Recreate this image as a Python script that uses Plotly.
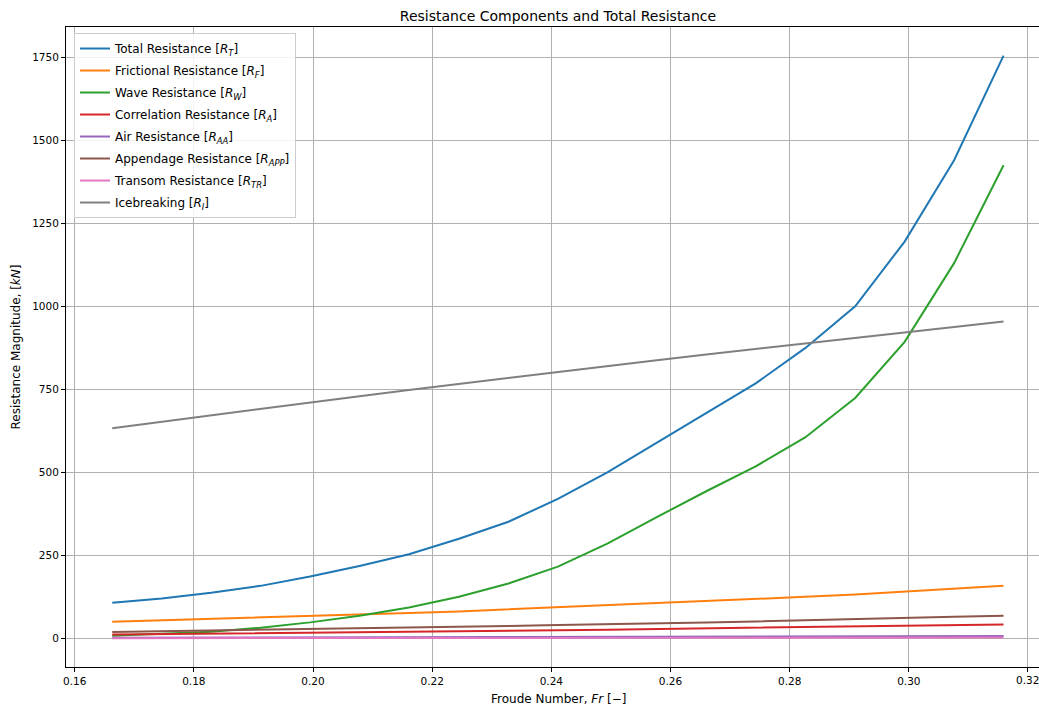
import plotly.graph_objects as go

# Froude numbers (speeds 10 ... 19 kn)
froude = [0.1663, 0.1746, 0.1829, 0.1912, 0.1995, 0.2078, 0.2161, 0.2245, 0.2328,
          0.2411, 0.2494, 0.2577, 0.2660, 0.2743, 0.2826, 0.2910, 0.2993, 0.3076, 0.3159]

r_total = [107, 120, 137, 158, 186, 218, 253, 300, 351, 420, 500, 590, 680, 768, 874,
           1000, 1195, 1440, 1755]
r_frictional = [50, 54, 58, 62, 67, 71, 76, 81, 87, 93, 99, 105, 112, 118, 125, 132, 141, 149, 158]
r_wave = [8, 13, 20, 32, 48, 68, 93, 125, 165, 216, 285, 365, 443, 518, 605, 724, 893, 1130, 1425]
r_correlation = [11.5, 12.7, 13.9, 15.2, 16.6, 18.0, 19.5, 21.0, 22.6, 24.3, 26.0, 27.8, 29.6,
                 31.5, 33.5, 35.5, 37.6, 39.7, 41.9]
r_air = [1.8, 2.0, 2.2, 2.4, 2.6, 2.9, 3.1, 3.4, 3.6, 3.9, 4.1, 4.4, 4.7, 5.0, 5.3, 5.6, 6.0, 6.3, 6.6]
r_appendage = [19, 21, 23, 25, 27, 30, 32, 34, 37, 40, 42, 45, 48, 51, 55, 58, 61, 65, 68]
r_transom = [0.5, 0.6, 0.7, 0.8, 0.9, 1.0, 1.1, 1.2, 1.3, 1.4, 1.5, 1.6, 1.7, 1.8, 1.9, 2.0, 2.1, 2.2, 2.3]
r_ice = [633, 652.7, 672.2, 691.5, 710.5, 729.4, 748, 766.4, 784.5, 802.5, 820.2, 837.7, 855,
         872, 888.9, 905.5, 921.9, 938, 954]

series = [
    ("Total Resistance [<i>R<sub>T</sub></i>]", r_total, "#1f77b4"),
    ("Frictional Resistance [<i>R<sub>F</sub></i>]", r_frictional, "#ff7f0e"),
    ("Wave Resistance [<i>R<sub>W</sub></i>]", r_wave, "#2ca02c"),
    ("Correlation Resistance [<i>R<sub>A</sub></i>]", r_correlation, "#d62728"),
    ("Air Resistance [<i>R<sub>AA</sub></i>]", r_air, "#9467bd"),
    ("Appendage Resistance [<i>R<sub>APP</sub></i>]", r_appendage, "#8c564b"),
    ("Transom Resistance [<i>R<sub>TR</sub></i>]", r_transom, "#e377c2"),
    ("Icebreaking [<i>R<sub>I</sub></i>]", r_ice, "#7f7f7f"),
]

xticks = [0.16, 0.18, 0.20, 0.22, 0.24, 0.26, 0.28, 0.30, 0.32]
xticklabels = ["0.16", "0.18", "0.20", "0.22", "0.24", "0.26", "0.28", "0.30", "0.32"]
yticks = [0, 250, 500, 750, 1000, 1250, 1500, 1750]

fig = go.Figure()
for i, (name, vals, col) in enumerate(series):
    fig.add_trace(go.Scatter(x=froude, y=vals, mode="lines", name=name,
                             legendgroup=f"g{i}",
                             line=dict(color=col, width=2)))

font = "DejaVu Sans, Arial, sans-serif"
tick_font = dict(size=10.5, color="black")
fig.update_layout(
    width=1039, height=708,
    margin=dict(l=66, r=0, t=27, b=41),
    paper_bgcolor="white", plot_bgcolor="white",
    font=dict(family=font, size=10.5, color="black"),
    title=dict(text="Resistance Components and Total Resistance",
               x=558 / 1039, xref="container", xanchor="center",
               y=1 - 16 / 708, yref="container", yanchor="middle",
               font=dict(size=14, color="black")),
    showlegend=True,
    legend=dict(x=0.0082, y=0.9906, xanchor="left", yanchor="top",
                bgcolor="rgba(255,255,255,0.85)", bordercolor="#cccccc", borderwidth=1,
                font=dict(size=12), tracegroupgap=3, traceorder="grouped"),
)
# last x tick label sits at the cropped right edge
fig.add_annotation(x=xticks[-1], y=0, xref="x", yref="paper", yanchor="top",
                   yshift=-5, text=xticklabels[-1], showarrow=False,
                   font=tick_font)
# x-axis title centred on the full (cropped) axes width
fig.add_annotation(x=(558 - 66) / 973, y=0, xref="paper", yref="paper",
                   xanchor="center", yanchor="middle", yshift=-32,
                   text="Froude Number, <i>Fr</i> [−]", showarrow=False,
                   font=dict(size=12, color="black"))
fig.update_xaxes(
    range=[0.15854, 0.32185], tickvals=xticks, ticktext=xticklabels,
    tickfont=tick_font,
    showgrid=True, gridcolor="#b0b0b0", gridwidth=1,
    showline=True, linecolor="black", linewidth=1, mirror=True,
    ticks="outside", ticklen=4, tickcolor="black", zeroline=False,
)
fig.update_yaxes(
    range=[-86.4, 1841.3], tickvals=yticks, tickfont=tick_font,
    showgrid=True, gridcolor="#b0b0b0", gridwidth=1,
    showline=True, linecolor="black", linewidth=1,
    ticks="outside", ticklen=4, tickcolor="black", zeroline=False,
    title=dict(text="Resistance Magnitude, [<i>kN</i>]", font=dict(size=12), standoff=8),
)

fig.write_html("out.html")
